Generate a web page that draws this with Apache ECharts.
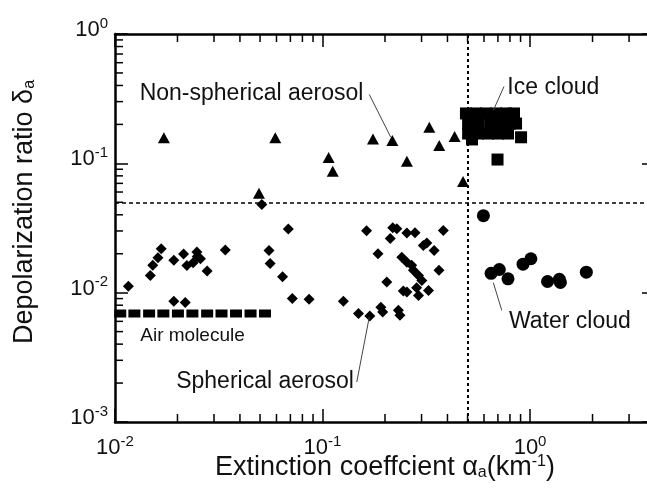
<!DOCTYPE html>
<html>
<head>
<meta charset="utf-8" />
<title>Depolarization ratio vs extinction coefficient</title>
<script src="https://cdn.jsdelivr.net/npm/echarts@6.0.0/dist/echarts.min.js"></script>
<style>
* { margin: 0; padding: 0; box-sizing: border-box; }
body { background: #fff; }
</style>
</head>
<body>
<div id="main" style="width: 647px; height: 492px"></div>
<script>
// air molecule (squares along the bottom)
var airMolecule = [
	[0.0106, 0.0069], [0.0124, 0.0069], [0.0146, 0.0069], [0.0171, 0.0069], [0.0201, 0.0069], [0.0236, 0.0069],
	[0.0278, 0.0069], [0.0326, 0.0069], [0.0383, 0.0069], [0.0450, 0.0069], [0.0528, 0.0069]
];
// spherical aerosol (diamonds)
var sphericalAerosol = [
	[0.0116, 0.0112], [0.0148, 0.0136], [0.0152, 0.0163], [0.0161, 0.0186], [0.0167, 0.0219],
	[0.0192, 0.0178], [0.0192, 0.0086], [0.0218, 0.0084], [0.0214, 0.0199], [0.0222, 0.0162],
	[0.0238, 0.0170], [0.0248, 0.0206], [0.0258, 0.0183], [0.0249, 0.0190], [0.0278, 0.0147],
	[0.0340, 0.0214], [0.051, 0.048], [0.0552, 0.0212], [0.0559, 0.0168], [0.0642, 0.0133],
	[0.0684, 0.0311], [0.0715, 0.0090], [0.0861, 0.0089], [0.126, 0.0086], [0.149, 0.0069],
	[0.169, 0.0066], [0.163, 0.0301], [0.185, 0.0200], [0.218, 0.0318], [0.228, 0.0312],
	[0.212, 0.0262], [0.255, 0.0289], [0.279, 0.0291], [0.382, 0.0303], [0.241, 0.0188],
	[0.255, 0.0172], [0.269, 0.0163], [0.306, 0.0232], [0.318, 0.0242], [0.345, 0.0212],
	[0.364, 0.0149], [0.274, 0.0149], [0.290, 0.0136], [0.301, 0.0124], [0.204, 0.0121],
	[0.245, 0.0103], [0.255, 0.0101], [0.284, 0.0109], [0.290, 0.0095], [0.324, 0.0104],
	[0.191, 0.0077], [0.195, 0.0071], [0.232, 0.0073], [0.236, 0.0067]
];
// non-spherical aerosol (triangles)
var nonSphericalAerosol = [
	[0.0172, 0.158], [0.0592, 0.158], [0.107, 0.111], [0.112, 0.087], [0.0494, 0.0588], [0.175, 0.154],
	[0.217, 0.150], [0.255, 0.104], [0.327, 0.190], [0.365, 0.1375], [0.433, 0.161], [0.4755, 0.0725]
];
// ice cloud (big squares)
var iceCloud = [
	[0.491, 0.243], [0.549, 0.243], [0.614, 0.243], [0.686, 0.243], [0.766, 0.243], [0.837, 0.243],
	[0.503, 0.203], [0.562, 0.203], [0.642, 0.203], [0.717, 0.203], [0.801, 0.203], [0.856, 0.203],
	[0.503, 0.170], [0.562, 0.170], [0.628, 0.170], [0.701, 0.170], [0.783, 0.170],
	[0.525, 0.153], [0.905, 0.159], [0.697, 0.107]
];
// water cloud (circles)
var waterCloud = [
	[0.596, 0.0394], [0.649, 0.0141], [0.711, 0.0151], [0.783, 0.0128], [0.925, 0.0166],
	[1.009, 0.0183], [1.214, 0.0122], [1.384, 0.0127], [1.40, 0.0120], [1.867, 0.0144]
];
// minor tick values
var minorTicksX = [0.02, 0.03, 0.04, 0.05, 0.06, 0.07, 0.08, 0.09, 0.2, 0.3, 0.4, 0.5, 0.6, 0.7, 0.8, 0.9, 2, 3];
var minorTicksY = [0.002, 0.003, 0.004, 0.005, 0.006, 0.007, 0.008, 0.009, 0.02, 0.03, 0.04, 0.05, 0.06, 0.07, 0.08, 0.09,
	0.2, 0.3, 0.4, 0.5, 0.6, 0.7, 0.8, 0.9];
// threshold lines
var alphaLimit = 0.5;
var deltaLimit = 0.05;

var font = 'Liberation Sans, Arial, Helvetica, sans-serif';
var ink = '#000';

function powLabel(v) {
	var e = Math.round(Math.log10(v));
	if (Math.abs(Math.pow(10, e) - v) > 1e-6 * v) return '';
	return '{b|10}{s|' + e + '}';
}
var powRich = {
	b: {fontSize: 22, lineHeight: 22, padding: [6, 0, 0, 0], fontFamily: font, color: '#111'},
	s: {fontSize: 15, lineHeight: 15, verticalAlign: 'top', fontFamily: font, color: '#111'}
};
var nameRich = {
	t: {fontSize: 27, lineHeight: 27, padding: [8, 0, 8, 0], fontFamily: font, color: '#111'},
	sb: {fontSize: 16, lineHeight: 16, verticalAlign: 'bottom', fontFamily: font, color: '#111'},
	sp: {fontSize: 16, lineHeight: 16, verticalAlign: 'top', fontFamily: font, color: '#111'}
};

function minorTickX(params, api) {
	var x = api.coord([api.value(0), 0.01])[0];
	var r = params.coordSys;
	var st = {stroke: ink, lineWidth: 1.5};
	return {type: 'group', children: [
		{type: 'line', shape: {x1: x, y1: r.y + r.height, x2: x, y2: r.y + r.height - 8}, style: st},
		{type: 'line', shape: {x1: x, y1: r.y, x2: x, y2: r.y + 8}, style: st}
	]};
}
function minorTickY(params, api) {
	var y = api.coord([1, api.value(1)])[1];
	var r = params.coordSys;
	var st = {stroke: ink, lineWidth: 1.5};
	return {type: 'group', children: [
		{type: 'line', shape: {x1: r.x, y1: y, x2: r.x + 8, y2: y}, style: st},
		{type: 'line', shape: {x1: r.x + r.width, y1: y, x2: r.x + r.width - 8, y2: y}, style: st}
	]};
}

var myChart = echarts.init(document.getElementById('main'));
var frameLine = {show: true, lineStyle: {color: ink, width: 2.5}};
var majorTick = {show: true, inside: true, length: 13, lineStyle: {color: ink, width: 1.5}};
var dot = {color: ink, opacity: 1};

var option = {
	animation: false,
	backgroundColor: '#fff',
	grid: {left: 115, top: 34, right: -8, bottom: 70, outerBoundsMode: 'none', containLabel: false},
	xAxis: [
		{
			type: 'log', logBase: 10, min: 0.01, max: 4,
			name: '{t|Extinction coeffcient }{t|α}{sb|a}{t|(km}{sp|-1}{t|)}',
			nameLocation: 'middle', nameGap: 32, nameMoveOverlap: false,
			nameTextStyle: {rich: nameRich},
			axisLine: frameLine, axisTick: majorTick,
			axisLabel: {formatter: powLabel, rich: powRich, margin: 12},
			splitLine: {show: false}
		},
		{
			type: 'log', logBase: 10, min: 0.01, max: 4, position: 'top',
			axisLine: frameLine, axisTick: majorTick, axisLabel: {show: false}, splitLine: {show: false}
		}
	],
	yAxis: [
		{
			type: 'log', logBase: 10, min: 0.001, max: 1,
			name: '{t|Depolarization ratio δ}{sb|a}',
			nameLocation: 'middle', nameGap: 77, nameMoveOverlap: false,
			nameTextStyle: {rich: nameRich, padding: [0, 0, 0, 32]},
			axisLine: frameLine, axisTick: majorTick,
			axisLabel: {formatter: powLabel, rich: powRich, margin: 7, padding: [0, 0, 14, 0]},
			splitLine: {show: false}
		},
		{
			type: 'log', logBase: 10, min: 0.001, max: 1, position: 'right',
			axisLine: frameLine, axisTick: majorTick, axisLabel: {show: false}, splitLine: {show: false}
		}
	],
	series: [
		{
			type: 'custom', name: 'minor x', renderItem: minorTickX, silent: true,
			data: minorTicksX.map(function (v) { return [v, 0.01]; })
		},
		{
			type: 'custom', name: 'minor y', renderItem: minorTickY, silent: true,
			data: minorTicksY.map(function (v) { return [1, v]; })
		},
		{
			name: 'Air molecule', type: 'scatter', symbol: 'rect', symbolSize: [12, 8],
			itemStyle: dot, data: airMolecule,
			markLine: {
				silent: true, symbol: 'none', label: {show: false},
				data: [
					{xAxis: alphaLimit, lineStyle: {color: ink, width: 2, type: [3, 3]}},
					{yAxis: deltaLimit, lineStyle: {color: ink, width: 1.5, type: [4, 3]}}
				]
			}
		},
		{
			name: 'Spherical aerosol', type: 'scatter', symbol: 'diamond', symbolSize: 11,
			itemStyle: dot, data: sphericalAerosol
		},
		{
			name: 'Non-spherical aerosol', type: 'scatter', symbol: 'triangle', symbolSize: [12, 11],
			itemStyle: dot, data: nonSphericalAerosol
		},
		{
			name: 'Ice cloud', type: 'scatter', symbol: 'rect', symbolSize: 12,
			itemStyle: dot, data: iceCloud
		},
		{
			name: 'Water cloud', type: 'scatter', symbol: 'circle', symbolSize: 13,
			itemStyle: dot, data: waterCloud
		},
		{
			// labels and leader lines
			name: 'notes', type: 'scatter', data: [], silent: true,
			markLine: {
				silent: true, symbol: 'none', label: {show: false},
				lineStyle: {color: '#444', width: 1, type: 'solid'},
				data: [
					[{coord: [0.168, 0.3407]}, {coord: [0.2132, 0.1594]}],
					[{coord: [0.749, 0.3928]}, {coord: [0.6653, 0.2563]}],
					[{coord: [0.6653, 0.01195]}, {coord: [0.7306, 0.0073]}],
					[{coord: [0.1462, 0.002037]}, {coord: [0.168, 0.006477]}]
				]
			},
			markPoint: {
				silent: true, symbol: 'circle', symbolSize: 0,
				label: {show: true, position: 'inside', formatter: '{b}', color: '#111', fontFamily: font, fontSize: 23},
				data: [
					{name: 'Non-spherical aerosol', coord: [0.04549, 0.3469]},
					{name: 'Ice cloud', coord: [1.295, 0.3859]},
					{name: 'Water cloud', coord: [1.555, 0.005928]},
					{name: 'Spherical aerosol', coord: [0.05283, 0.002037]},
					{name: 'Air molecule', coord: [0.02363, 0.004677], label: {fontSize: 19}}
				]
			}
		}
	]
};
option && myChart.setOption(option);
</script>
</body>
</html>
